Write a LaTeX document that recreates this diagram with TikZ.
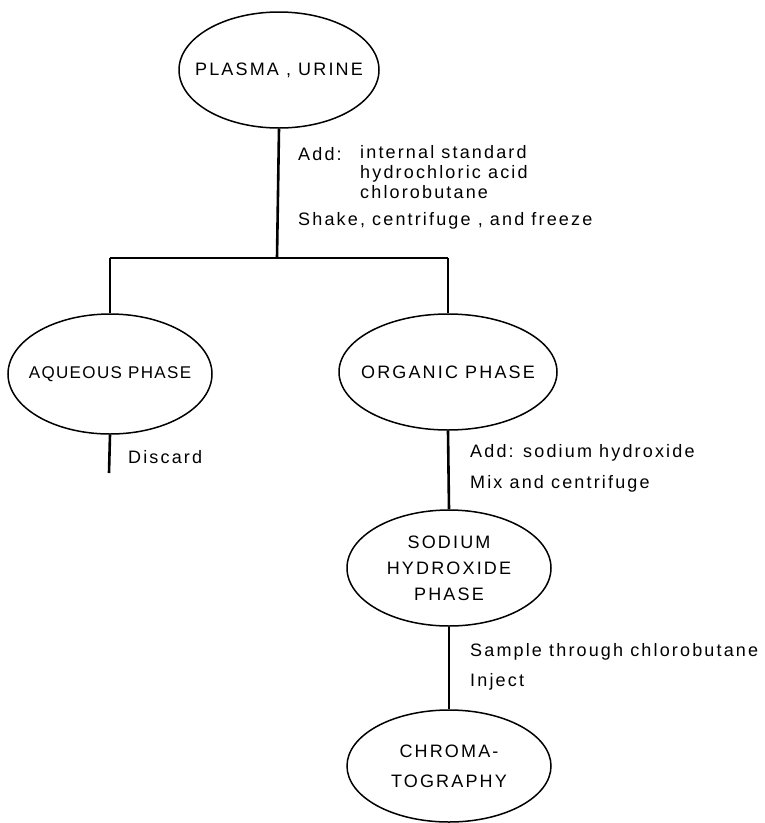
\documentclass[tikz,border=0pt]{standalone}
\usepackage{fontspec}
\setmainfont{Liberation Sans}[LetterSpace=12]
\usetikzlibrary{shapes.geometric}

\tikzset{
  phase/.style={draw, ellipse, line width=1.5pt, inner xsep=-30pt, inner ysep=0pt,
    minimum width=204pt, minimum height=116pt, align=center,
    font=\fontsize{18}{26}\selectfont},
  note/.style={anchor=west, inner sep=0pt, align=left,
    font=\fontsize{18}{20}\selectfont},
  link/.style={line width=2.6pt}
}

\begin{document}
\begin{tikzpicture}[x=1pt, y=-1pt]
  \useasboundingbox (0,0) rectangle (765,823);

  % phases
  \node[phase, minimum width=200pt] (plasma) at (279,70) {PLASMA , URINE};
  \node[phase, minimum height=120pt,
    font=\fontsize{17}{26}\selectfont\addfontfeatures{LetterSpace=8}]
    (aqueous) at (110,374) {AQUEOUS PHASE};
  \node[phase, minimum width=218pt] (organic) at (448,372) {ORGANIC PHASE};
  \node[phase] (sodium) at (449,568) {SODIUM\\HYDROXIDE\\PHASE};
  \node[phase, minimum height=112pt, font=\fontsize{18}{30}\selectfont]
    (chroma) at (449,766) {CHROMA-\\TOGRAPHY};

  % split into the two phases
  \coordinate (split) at (277,258);
  \coordinate (discard) at (109,473);
  \draw[link] (plasma.south) -- (split);
  \draw[link] (aqueous.north |- split) -- (organic.north |- split);
  \draw[link] (aqueous.north |- split) -- (aqueous.north);
  \draw[link] (organic.north |- split) -- (organic.north);
  \draw[link] (aqueous.south) -- (discard);
  \draw[link] (organic.south) -- (sodium.north);
  \draw[link] (sodium.south) -- (chroma.north);

  % steps
  \node[note] (add1) at (298,154) {Add:};
  \node[note, anchor=north west] (reagents) at (360,145)
    {internal standard\\hydrochloric acid\\chlorobutane};
  \node[note] (shake) at (298,221) {Shake, centrifuge , and freeze};
  \node[note] (drop) at (128,457) {Discard};
  \node[note] (add2) at (470,453) {Add: sodium hydroxide};
  \node[note] (mix) at (470,484) {Mix and centrifuge};
  \node[note] (sample) at (470,652) {Sample through chlorobutane};
  \node[note] (inject) at (470,682) {Inject};
\end{tikzpicture}
\end{document}
